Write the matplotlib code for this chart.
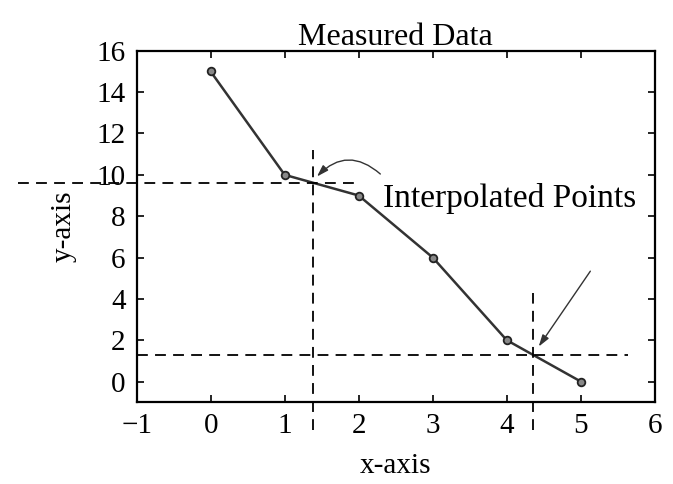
import matplotlib
matplotlib.use("Agg")
import matplotlib.pyplot as plt

# measured data
x_data = [0, 1, 2, 3, 4, 5]
y_data = [15, 10, 9, 6, 2, 0]

# interpolated points
x_interp = [1.38, 4.36]
y_interp = [9.62, 1.28]

x_ticks = [-1, 0, 1, 2, 3, 4, 5, 6]
y_ticks = [0, 2, 4, 6, 8, 10, 12, 14, 16]

plt.rcParams['font.family'] = ['Liberation Serif', 'DejaVu Serif']

fig = plt.figure(figsize=(6.73, 4.84), dpi=100)
ax = fig.add_axes([0.203, 0.169, 0.770, 0.726])

ax.plot(x_data, y_data, '-', color='#333333', lw=1.8, marker='o', ms=5.5,
        mfc='#888888', mec='#222222', mew=1.3)

dash = dict(color='black', lw=1.3, ls=(0, (6, 4)), clip_on=False)
# dashed guide lines through the interpolated points
ax.plot([-2.6, 2.0], [y_interp[0]] * 2, **dash)
ax.plot([x_interp[0]] * 2, [-2.35, 11.2], **dash)
ax.plot([-1, 5.64], [y_interp[1]] * 2, **dash)
ax.plot([x_interp[1]] * 2, [-2.35, 4.3], **dash)

head = dict(arrowstyle='-|>,head_length=0.7,head_width=0.22', color='#333333', lw=1.0)
ax.annotate('', xy=(x_interp[0] + 0.03, y_interp[0] + 0.2), xytext=(2.32, 9.95),
            arrowprops=dict(connectionstyle='arc3,rad=0.5', **head))
ax.annotate('', xy=(x_interp[1] + 0.05, y_interp[1] + 0.3), xytext=(5.15, 5.45),
            arrowprops=head)
ax.text(2.33, 8.87, 'Interpolated Points', fontsize=24, va='center', ha='left')

ax.set_xlim(-1, 6)
ax.set_ylim(-1, 16)
ax.set_xticks(x_ticks)
ax.set_yticks(y_ticks)
ax.set_xticklabels(['\u22121' if v < 0 else str(v) for v in x_ticks])
ax.tick_params(direction='in', top=True, right=True, labelsize=21, length=5,
               width=1.2, pad=8)
for s in ax.spines.values():
    s.set_linewidth(1.6)

ax.set_title('Measured Data', fontsize=23, pad=4)
ax.set_xlabel('x-axis', fontsize=21, labelpad=10)
ax.set_ylabel('y-axis', fontsize=21, labelpad=14)

fig.savefig('out.png', dpi=100)
